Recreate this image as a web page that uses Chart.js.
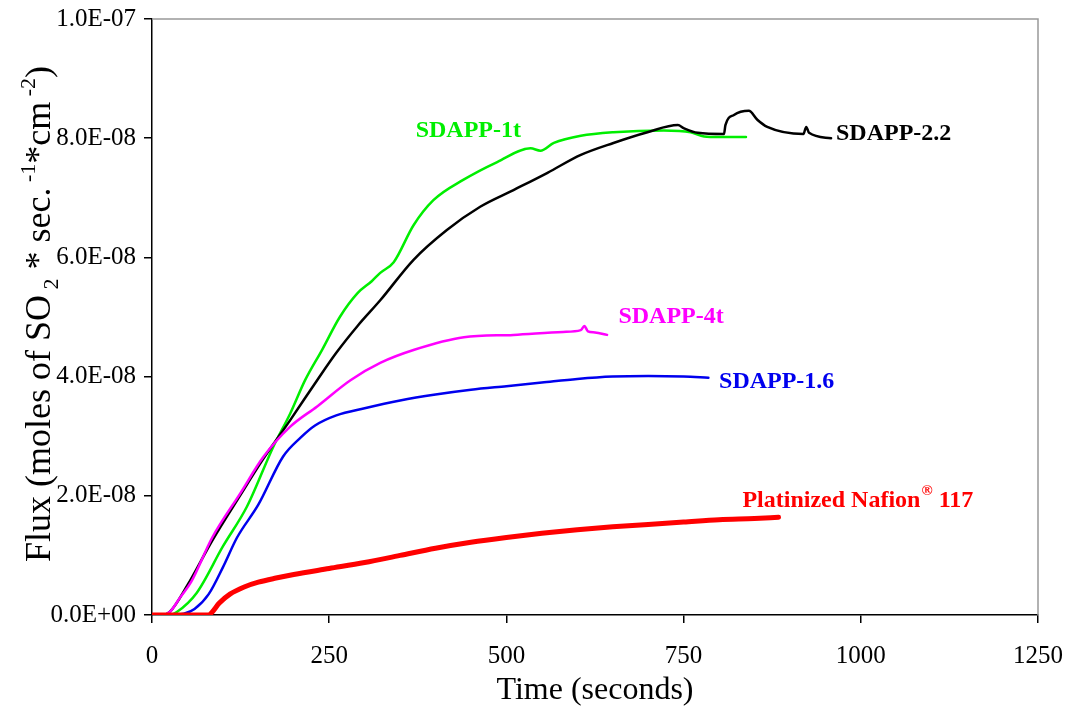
<!DOCTYPE html>
<html>
<head>
<meta charset="utf-8">
<script src="https://cdn.jsdelivr.net/npm/chart.js@4"></script>
<style>
    html, body { margin: 0; padding: 0; background: #fff; }
    #wrap { width: 1066px; height: 706px; position: relative; }
</style>
</head>
<body>
<div id="wrap"><canvas id="fluxChart" width="1066" height="706"></canvas></div>
<script>
// flux values are in units of 1e-8 mol SO2 / (s*cm2)
const nafionT = [0, 80, 85, 95, 110, 130, 150, 175, 200, 250, 300, 350, 400, 450, 500, 550, 600, 650, 700, 750, 800, 850, 884];
const nafionF = [0, 0, 0.05, 0.2, 0.35, 0.47, 0.55, 0.62, 0.68, 0.78, 0.88, 1.0, 1.12, 1.22, 1.3, 1.37, 1.43, 1.48, 1.52, 1.56, 1.6, 1.62, 1.64];

const sd16T = [0, 30, 45, 60, 80, 100, 120, 150, 185, 210, 230, 260, 300, 350, 400, 450, 500, 550, 600, 650, 700, 750, 785];
const sd16F = [0, 0, 0.02, 0.1, 0.35, 0.8, 1.3, 1.85, 2.66, 2.98, 3.18, 3.35, 3.47, 3.6, 3.7, 3.78, 3.84, 3.9, 3.96, 4.0, 4.01, 4.0, 3.98];

const sd4tT = [0, 15, 25, 40, 55, 85, 125, 157, 195, 233, 280, 322, 370, 440, 510, 580, 605, 610, 615, 625, 642];
const sd4tF = [0, 0, 0.05, 0.3, 0.55, 1.3, 2.05, 2.65, 3.16, 3.5, 3.94, 4.23, 4.45, 4.66, 4.7, 4.75, 4.78, 4.85, 4.76, 4.74, 4.7];

const sd1tT = [0, 25, 35, 63, 100, 134, 171, 195, 216, 240, 265, 290, 310, 322, 341, 369, 397, 439, 487, 534, 548, 567, 605, 651, 722, 760, 779, 800, 838];
const sd1tF = [0, 0, 0.05, 0.37, 1.15, 1.82, 2.82, 3.38, 3.94, 4.45, 5.0, 5.4, 5.6, 5.74, 5.92, 6.54, 6.96, 7.3, 7.6, 7.83, 7.79, 7.92, 8.04, 8.1, 8.13, 8.1, 8.03, 8.02, 8.02];

const sd22T = [0, 15, 25, 50, 85, 124, 157, 195, 233, 260, 290, 322, 369, 416, 463, 510, 558, 605, 651, 699, 742, 750, 770, 807, 809, 821, 842, 854, 868, 919, 923, 927, 958];
const sd22F = [0, 0, 0.05, 0.5, 1.25, 2.0, 2.62, 3.27, 3.94, 4.4, 4.85, 5.28, 5.96, 6.46, 6.85, 7.13, 7.42, 7.72, 7.92, 8.1, 8.22, 8.17, 8.09, 8.07, 8.22, 8.39, 8.46, 8.31, 8.19, 8.07, 8.19, 8.09, 8.0];

// curve labels, anchored in data space (time, flux)
const labelText = ['SDAPP-1t', 'SDAPP-2.2', 'SDAPP-4t', 'SDAPP-1.6', 'Platinized Nafion'];
const labelT = [372, 965, 658, 800, 833];
const labelF = [8.12, 8.07, 5.0, 3.92, 1.92];
const labelColor = ['#00ee00', '#000000', '#ff00ff', '#0000ee', '#ff0000'];

const xTicks = [0, 250, 500, 750, 1000, 1250];

const toPoints = (ts, fs) => ts.map((t, i) => ({ x: t, y: fs[i] }));

function sciLabel(v) {
    const s = (v * 1e-8).toExponential(1);
    const [m, e] = s.split('e');
    return m + 'E' + e[0] + e.slice(1).padStart(2, '0');
}

const serif = '"Liberation Serif", "Times New Roman", serif';

const decorPlugin = {
    id: 'decor',
    afterDraw(chart) {
        const { ctx, chartArea: a, scales } = chart;
        ctx.save();
        // grey frame on top and right
        ctx.strokeStyle = '#999999';
        ctx.lineWidth = 1.5;
        ctx.beginPath();
        ctx.moveTo(a.left, a.top);
        ctx.lineTo(a.right, a.top);
        ctx.lineTo(a.right, a.bottom);
        ctx.stroke();

        // curve labels
        ctx.textBaseline = 'middle';
        ctx.textAlign = 'left';
        labelText.forEach((txt, i) => {
            const px = scales.x.getPixelForValue(labelT[i]);
            const py = scales.y.getPixelForValue(labelF[i]);
            ctx.fillStyle = labelColor[i];
            ctx.font = 'bold 24px ' + serif;
            ctx.fillText(txt, px, py);
            if (i === 4) {
                let w = ctx.measureText(txt).width;
                ctx.font = 'bold 15px ' + serif;
                ctx.fillText('®', px + w + 1, py - 9);
                w += ctx.measureText('®').width + 1;
                ctx.font = 'bold 24px ' + serif;
                ctx.fillText(' 117', px + w, py);
            }
        });

        // x axis title
        ctx.fillStyle = '#000';
        ctx.font = '32px ' + serif;
        ctx.textAlign = 'center';
        ctx.textBaseline = 'alphabetic';
        ctx.fillText('Time (seconds)', (a.left + a.right) / 2, 699);

        // y axis title with sub/superscripts
        const parts = [
            ['Flux (moles of SO', 0, 36],
            [' 2', 8, 22],
            [' * sec.', 0, 36],
            [' -1', -15, 22],
            ['*cm', 0, 36],
            [' -2', -15, 22],
            [')', 0, 36]
        ];
        let total = 0;
        parts.forEach(p => { ctx.font = p[2] + 'px ' + serif; total += ctx.measureText(p[0]).width; });
        ctx.translate(50, 314);
        ctx.rotate(-Math.PI / 2);
        ctx.textAlign = 'left';
        let x = -total / 2;
        parts.forEach(p => {
            ctx.font = p[2] + 'px ' + serif;
            ctx.fillText(p[0], x, p[1]);
            x += ctx.measureText(p[0]).width;
        });
        ctx.restore();
    }
};

const lineStyle = (color, width) => ({
    borderColor: color,
    backgroundColor: color,
    borderWidth: width,
    pointRadius: 0,
    fill: false,
    cubicInterpolationMode: 'monotone',
    borderCapStyle: 'round',
    borderJoinStyle: 'round'
});

new Chart(document.getElementById('fluxChart'), {
    type: 'line',
    data: {
        datasets: [
            { label: 'Platinized Nafion 117', data: toPoints(nafionT, nafionF), ...lineStyle('#ff0000', 5) },
            { label: 'SDAPP-4t', data: toPoints(sd4tT, sd4tF), ...lineStyle('#ff00ff', 2.5) },
            { label: 'SDAPP-2.2', data: toPoints(sd22T, sd22F), ...lineStyle('#000000', 2.5) },
            { label: 'SDAPP-1t', data: toPoints(sd1tT, sd1tF), ...lineStyle('#00ee00', 2.5) },
            { label: 'SDAPP-1.6', data: toPoints(sd16T, sd16F), ...lineStyle('#0000ee', 2.5) }
        ]
    },
    options: {
        responsive: false,
        animation: false,
        events: [],
        layout: { padding: { left: 0, right: 28, top: 19, bottom: 0 } },
        plugins: {
            legend: { display: false },
            tooltip: { enabled: false }
        },
        scales: {
            x: {
                type: 'linear',
                min: 0,
                max: 1250,
                afterFit: s => { s.height = 91; s.paddingRight = 0; s.paddingLeft = 0; },
                afterBuildTicks: s => { s.ticks = xTicks.map(v => ({ value: v })); },
                border: { color: '#000', width: 1.5 },
                grid: { drawOnChartArea: false, color: '#000', tickLength: 8, lineWidth: 1.5 },
                ticks: {
                    color: '#000',
                    font: { family: serif, size: 25 },
                    padding: 18,
                    maxRotation: 0,
                    callback: v => String(v)
                }
            },
            y: {
                min: 0,
                max: 10,
                afterFit: s => { s.width = 152; s.paddingTop = 0; s.paddingBottom = 0; },
                border: { color: '#000', width: 1.5 },
                grid: { drawOnChartArea: false, color: '#000', tickLength: 8, lineWidth: 1.5 },
                ticks: {
                    stepSize: 2,
                    color: '#000',
                    font: { family: serif, size: 25 },
                    padding: 8,
                    callback: v => sciLabel(v)
                }
            }
        }
    },
    plugins: [decorPlugin]
});
</script>
</body>
</html>
